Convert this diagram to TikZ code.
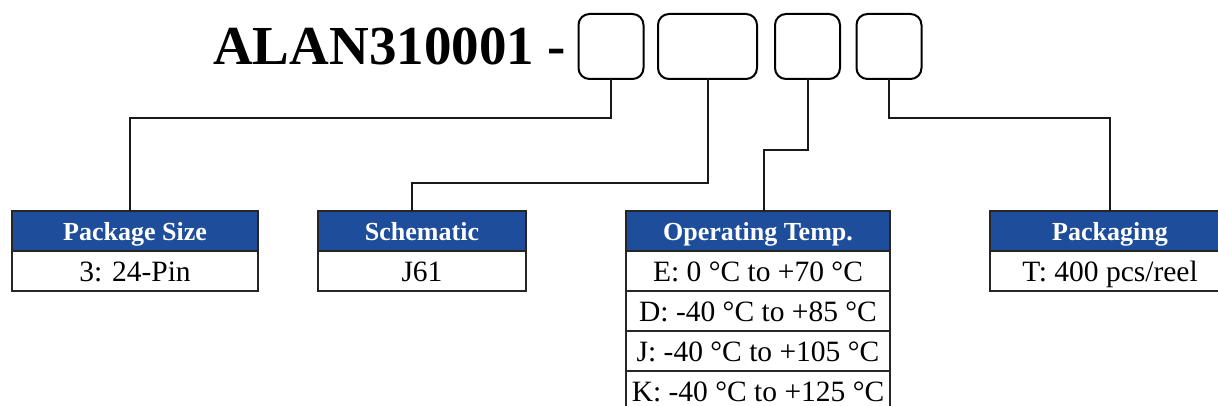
\documentclass[tikz,border=0pt]{standalone}
\usepackage{fontspec}
\setmainfont{Liberation Serif}
\definecolor{hdrblue}{HTML}{1E4E9B}
\begin{document}
\begin{tikzpicture}[x=1pt,y=-1pt,
  slot/.style={draw=black,line width=2pt,rounded corners=11pt,minimum height=65pt,inner sep=0pt,outer sep=0pt},
  hdr/.style={draw=black!85,line width=2pt,fill=hdrblue,text=white,anchor=north west,
    minimum height=40pt,inner sep=0pt,outer sep=0pt,text height=18.2pt,text depth=0pt,
    font=\fontsize{26}{28}\selectfont\bfseries},
  row/.style={draw=black!85,line width=2pt,fill=white,anchor=north west,
    minimum height=40pt,inner sep=0pt,outer sep=0pt,text height=21.6pt,text depth=0pt,
    font=\fontsize{29.5}{32}\selectfont},
  wire/.style={draw=black!90,line width=2pt}]
\useasboundingbox (0,0) rectangle (1218,406);
\fill[white] (0,0) rectangle (1218,406);
% title
\node[anchor=base west,inner sep=0pt,font=\fontsize{55}{60}\selectfont\bfseries] (title) at (213,65) {ALAN310001 -};
% slot boxes
\node[slot,minimum width=65pt] (b1) at (611,46.5) {};
\node[slot,minimum width=99pt] (b2) at (707.5,46.5) {};
\node[slot,minimum width=65pt] (b3) at (807.5,46.5) {};
\node[slot,minimum width=65pt] (b4) at (889,46.5) {};
% Package Size
\node[hdr,minimum width=246pt] (psh) at (12,211) {Package Size};
\node[row,minimum width=246pt] (psr) at (psh.south west) {3: 24-Pin};
% Schematic
\node[hdr,minimum width=208pt] (sch) at (318,211) {Schematic};
\node[row,minimum width=208pt] (scr) at (sch.south west) {J61};
% Operating Temp
\node[hdr,minimum width=264pt] (oth) at (626,211) {Operating Temp.};
\node[row,minimum width=264pt] (ot1) at (oth.south west) {E: 0 °C to +70 °C};
\node[row,minimum width=264pt] (ot2) at (ot1.south west) {D: -40 °C to +85 °C};
\node[row,minimum width=264pt] (ot3) at (ot2.south west) {J: -40 °C to +105 °C};
\node[row,minimum width=264pt] (ot4) at (ot3.south west) {K: -40 °C to +125 °C};
% Packaging
\node[hdr,minimum width=240pt] (pkh) at (990,211) {Packaging};
\node[row,minimum width=240pt] (pkr) at (pkh.south west) {T: 400 pcs/reel};
% connectors
\draw[wire] (b1.south) -- ++(0,39) -| ([xshift=-5pt]psh.north);
\draw[wire] (b2.south) -- ++(0,104) -| ([xshift=-10pt]sch.north);
\draw[wire] (b3.south) -- ++(0,71) -| ([xshift=6pt]oth.north);
\draw[wire] (b4.south) -- ++(0,39) -| (pkh.north);
\end{tikzpicture}
\end{document}
